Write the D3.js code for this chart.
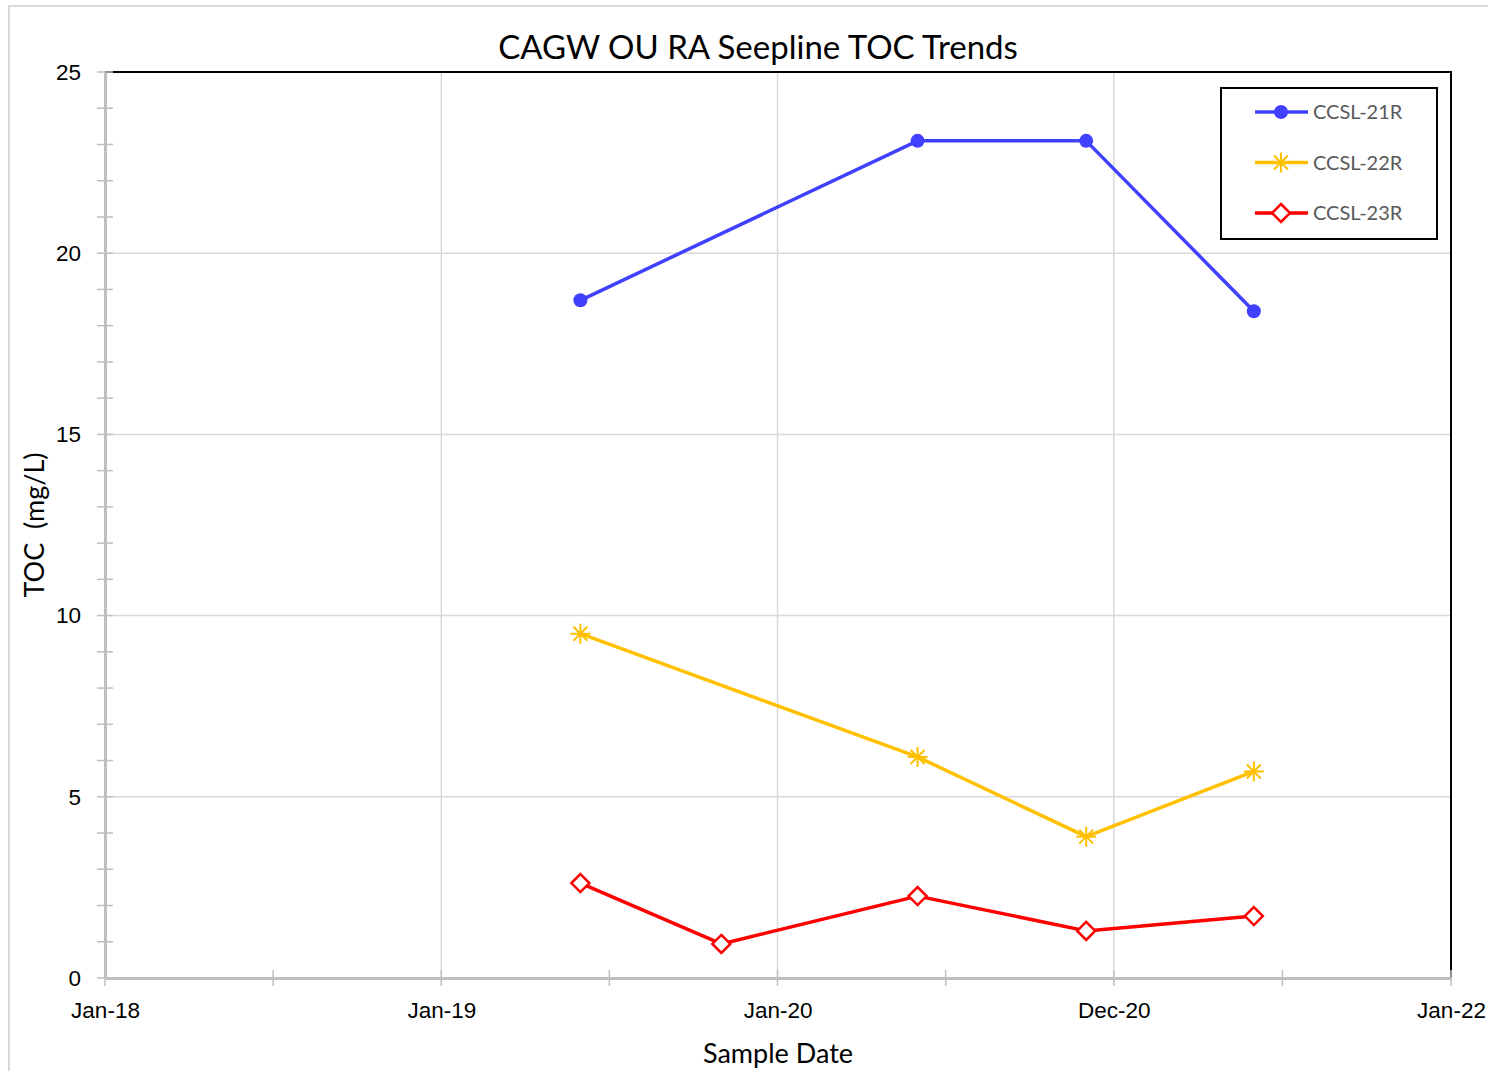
<!DOCTYPE html>
<html>
<head>
<meta charset="utf-8">
<script src="https://cdnjs.cloudflare.com/ajax/libs/d3/7.8.5/d3.min.js"></script>
<style>
  body { margin: 0; background: #fff; }
  svg { display: block; font-family: Lato, "Open Sans", sans-serif; }
</style>
</head>
<body>
<svg id="chart"></svg>
<script>
// data
const sampleDates = ["2019-06-01", "2019-11-01", "2020-06-01", "2020-12-01", "2021-06-01"];
const ccsl21R = [18.7, null, 23.1, 23.1, 18.4];
const ccsl22R = [9.5, null, 6.1, 3.9, 5.7];
const ccsl23R = [2.62, 0.94, 2.26, 1.3, 1.71];
const seriesNames = ["CCSL-21R", "CCSL-22R", "CCSL-23R"];
const xTickDates = ["2018-01-01", "2019-01-01", "2020-01-01", "2020-12-31", "2022-01-01"];
const xTickLabels = ["Jan-18", "Jan-19", "Jan-20", "Dec-20", "Jan-22"];
const yTicks = [0, 5, 10, 15, 20, 25];

const W = 1488, H = 1071;
const margin = {top: 72, right: 37, bottom: 93, left: 105};
const width = W - margin.left - margin.right,
      height = H - margin.top - margin.bottom;

const svg = d3.select("#chart").attr("width", W).attr("height", H);

// outer chart border (cropped on right/bottom)
svg.append("rect").attr("x", 9).attr("y", 6).attr("width", W + 10).attr("height", H + 10)
  .attr("fill", "none").attr("stroke", "#d9d9d9").attr("stroke-width", 2);

const parse = d3.utcParse("%Y-%m-%d");
const x = d3.scaleUtc().domain([parse("2018-01-01"), parse("2022-01-01")]).range([0, width]);
const y = d3.scaleLinear().domain([0, 25]).range([height, 0]);

const g = svg.append("g").attr("transform", "translate(" + margin.left + "," + margin.top + ")");

const xTicks = xTickDates.map(parse);
const xMinor = d3.pairs(xTicks).map(p => new Date((p[0].getTime() + p[1].getTime()) / 2));

// gridlines
g.append("g").selectAll("line").data(yTicks.slice(1, -1)).join("line")
  .attr("x1", 0).attr("x2", width).attr("y1", d => y(d)).attr("y2", d => y(d))
  .attr("stroke", "#d9d9d9").attr("stroke-width", 1.5);
g.append("g").selectAll("line").data(xTicks.slice(1, -1)).join("line")
  .attr("y1", 0).attr("y2", height).attr("x1", d => x(d)).attr("x2", d => x(d))
  .attr("stroke", "#d9d9d9").attr("stroke-width", 1.5);

// plot frame top/right
g.append("path").attr("d", "M0,0H" + width + "V" + height)
  .attr("fill", "none").attr("stroke", "#000").attr("stroke-width", 2);

// y axis
const yAxis = g.append("g")
  .call(d3.axisLeft(y).tickValues(yTicks).tickSize(0).tickPadding(24))
yAxis.select(".domain").attr("stroke", "#bfbfbf").attr("stroke-width", 3);
yAxis.selectAll("text").attr("font-size", 22.5).attr("fill", "#000");
g.append("g").selectAll("line").data(d3.range(0, 26)).join("line")
  .attr("x1", -8).attr("x2", 8).attr("y1", d => y(d)).attr("y2", d => y(d))
  .attr("stroke", "#bfbfbf").attr("stroke-width", 1.5);

// x axis
const xAxis = g.append("g").attr("transform", "translate(0," + height + ")")
  .call(d3.axisBottom(x).tickValues(xTicks).tickSize(0).tickPadding(24)
    .tickFormat((d, i) => xTickLabels[i]));
xAxis.select(".domain").attr("stroke", "#bfbfbf").attr("stroke-width", 3);
xAxis.selectAll("text").attr("font-size", 22.5).attr("fill", "#000");
g.append("g").selectAll("line").data(xTicks.concat(xMinor)).join("line")
  .attr("y1", height - 8).attr("y2", height + 8).attr("x1", d => x(d)).attr("x2", d => x(d))
  .attr("stroke", "#bfbfbf").attr("stroke-width", 1.5);

// series
const colors = ["#4040ff", "#ffc000", "#ff0000"];
const allValues = [ccsl21R, ccsl22R, ccsl23R];
const series = seriesNames.map((name, i) => ({
  name: name, color: colors[i],
  points: sampleDates.map((d, j) => ({date: parse(d), value: allValues[i][j]})).filter(p => p.value != null)
}));

const line = d3.line().x(d => x(d.date)).y(d => y(d.value));

function drawMarker(sel, idx, color) {
  if (idx === 0) {
    sel.append("circle").attr("r", 7).attr("fill", color);
  } else if (idx === 1) {
    const s = 10;
    sel.append("path")
      .attr("d", `M${-s},0H${s}M0,${-s}V${s}M${-s*0.7},${-s*0.7}L${s*0.7},${s*0.7}M${-s*0.7},${s*0.7}L${s*0.7},${-s*0.7}`)
      .attr("stroke", color).attr("stroke-width", 2).attr("fill", "none");
  } else {
    const s = 9;
    sel.append("path").attr("d", `M0,${-s}L${s},0L0,${s}L${-s},0Z`)
      .attr("fill", "#fff").attr("stroke", color).attr("stroke-width", 2.5);
  }
}

series.forEach((s, i) => {
  g.append("path").datum(s.points).attr("fill", "none").attr("stroke", s.color)
    .attr("stroke-width", 3.5).attr("stroke-linejoin", "round").attr("d", line);
  s.points.forEach(p => {
    const m = g.append("g").attr("transform", "translate(" + x(p.date) + "," + y(p.value) + ")");
    drawMarker(m, i, s.color);
  });
});

// legend
const leg = svg.append("g").attr("transform", "translate(1221,88)");
leg.append("rect").attr("width", 216).attr("height", 151)
  .attr("fill", "#fff").attr("stroke", "#000").attr("stroke-width", 2);
series.forEach((s, i) => {
  const row = leg.append("g").attr("transform", "translate(0," + (24 + i * 50.5) + ")");
  row.append("line").attr("x1", 34).attr("x2", 87).attr("stroke", s.color).attr("stroke-width", 3.5);
  const m = row.append("g").attr("transform", "translate(60,0)");
  drawMarker(m, i, s.color);
  row.append("text").attr("x", 92).attr("dy", "0.35em").attr("font-size", 20)
    .attr("fill", "#595959").text(s.name);
});

// titles
svg.append("text").attr("x", 758).attr("y", 47).attr("dy", "0.35em")
  .attr("text-anchor", "middle").attr("font-size", 33).text("CAGW OU RA Seepline TOC Trends");
svg.append("text").attr("x", 778).attr("y", 1054).attr("dy", "0.35em")
  .attr("text-anchor", "middle").attr("font-size", 27).text("Sample Date");
svg.append("text").attr("transform", "translate(35,525) rotate(-90)").attr("dy", "0.35em")
  .attr("text-anchor", "middle").attr("font-size", 27).attr("xml:space", "preserve").text("TOC  (mg/L)");
</script>
</body>
</html>
